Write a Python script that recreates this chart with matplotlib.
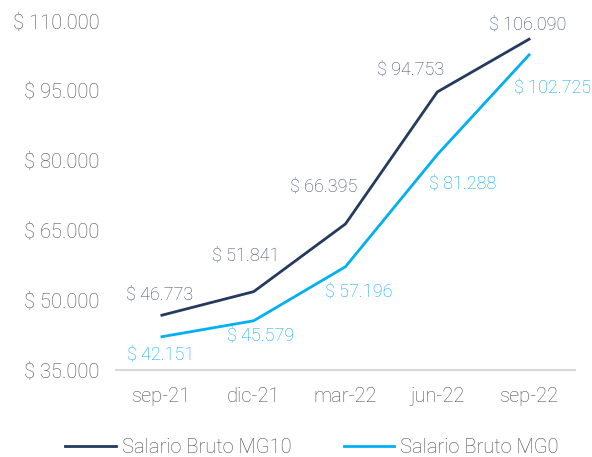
import matplotlib.pyplot as plt
from matplotlib.ticker import FuncFormatter

## data
periods = ["sep-21", "dic-21", "mar-22", "jun-22", "sep-22"]
mg10 = [46773, 51841, 66395, 94753, 106090]
mg0 = [42151, 45579, 57196, 81288, 102725]
mg10_offsets = [(-2, 21), (-8, 36), (-22, 37), (-27, 22), (-1, 15)]
mg0_offsets = [(-1, -18), (7, -15), (13, -25), (25, -29), (23, -33)]

navy = "#243A5E"
cyan = "#00B0F0"
grey = "#4D4D4D"

plt.rcParams["font.family"] = ["Roboto", "DejaVu Sans"]

def money(v, pos=None):
    return "$ " + f"{int(round(v)):,}".replace(",", ".")

fig = plt.figure(figsize=(5.92, 4.57), dpi=100)
ax = fig.add_axes([116 / 592, 87 / 457, 459 / 592, 349 / 457])

x = list(range(len(periods)))
ax.plot(x, mg10, color=navy, lw=2, label="Salario Bruto MG10")
ax.plot(x, mg0, color=cyan, lw=2, label="Salario Bruto MG0")

## value labels
for xi, v, off in zip(x, mg10, mg10_offsets):
    ax.annotate(money(v), (xi, v), xytext=off, textcoords="offset pixels",
                ha="center", va="center", color="#3B4A63", fontsize=13, fontweight="light")
for xi, v, off in zip(x, mg0, mg0_offsets):
    ax.annotate(money(v), (xi, v), xytext=off, textcoords="offset pixels",
                ha="center", va="center", color="#00A8EE", fontsize=13, fontweight="light")

ax.set_xlim(-0.5, len(periods) - 0.5)
ax.set_ylim(35000, 110000)
ax.set_yticks(range(35000, 110001, 15000))
ax.yaxis.set_major_formatter(FuncFormatter(money))
ax.set_xticks(x)
ax.set_xticklabels(periods)

for s in ["top", "right", "left"]:
    ax.spines[s].set_visible(False)
ax.spines["bottom"].set_color("#D9D9D9")
ax.spines["bottom"].set_linewidth(1.5)
ax.tick_params(length=0, labelsize=14.5, labelcolor=grey)
ax.tick_params(axis="x", pad=12)
ax.tick_params(axis="y", pad=12)
for t in ax.get_xticklabels() + ax.get_yticklabels():
    t.set_fontweight("light")

leg = fig.legend(loc="lower center", bbox_to_anchor=(0.527, -0.04), ncol=2, frameon=False,
                 handlelength=2.5, columnspacing=2.6, handletextpad=0.3,
                 prop={"size": 14.5, "weight": "light"})
for t in leg.get_texts():
    t.set_color(grey)

fig.savefig("out.png", dpi=100)
